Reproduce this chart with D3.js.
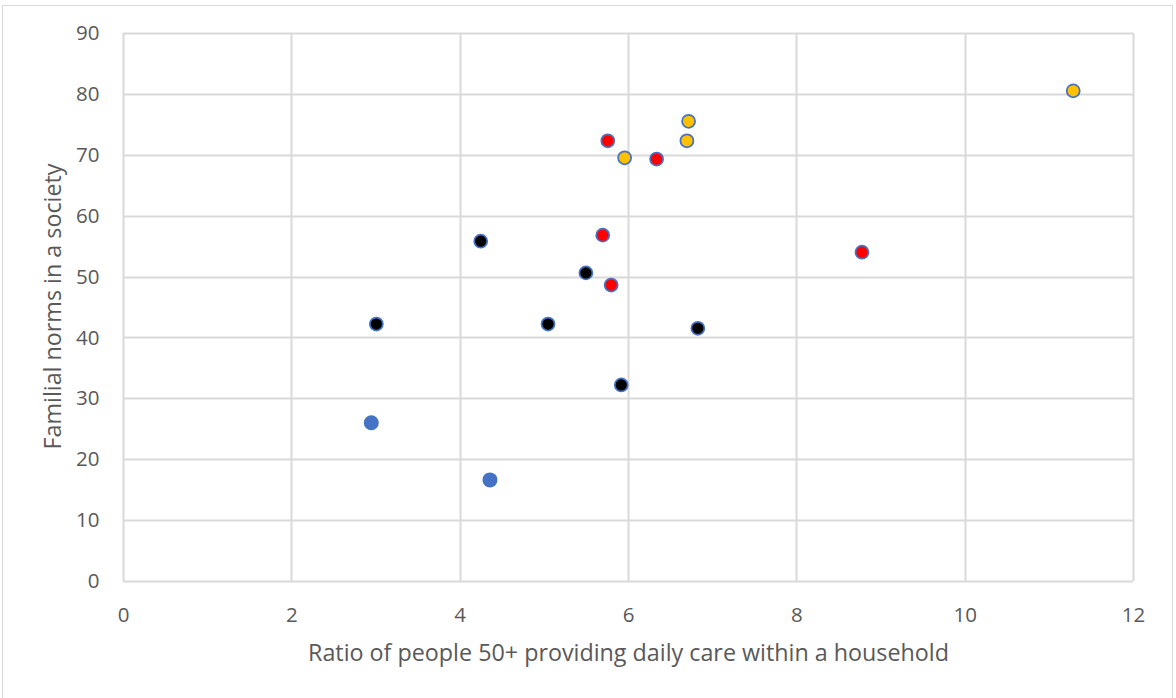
<!DOCTYPE html>
<html>
<head>
<meta charset="utf-8">
<script src="https://cdn.jsdelivr.net/npm/d3@7/dist/d3.min.js"></script>
<style>
  html, body { margin: 0; padding: 0; background: #fff; }
  svg { display: block; }
  .tick text { font-family: "Open Sans", Lato, sans-serif; fill: #595959; }
</style>
</head>
<body>
<svg id="chart" width="1176" height="698"></svg>
<script>
// Care ratio (x) vs familial norms (y), grouped into four country clusters
const groupBlueX   = [2.95, 4.36];
const groupBlueY   = [26.0, 16.6];
const groupBlackX  = [3.01, 4.25, 5.05, 5.50, 5.92, 6.83];
const groupBlackY  = [42.2, 55.8, 42.2, 50.6, 32.2, 41.5];
const groupRedX    = [5.76, 5.70, 5.80, 6.34, 8.78];
const groupRedY    = [72.3, 56.8, 48.6, 69.3, 54.0];
const groupYellowX = [6.72, 6.70, 5.96, 11.29];
const groupYellowY = [75.5, 72.3, 69.5, 80.5];

const xTicks = [0, 2, 4, 6, 8, 10, 12];
const yTicks = [0, 10, 20, 30, 40, 50, 60, 70, 80, 90];

const xTitle = "Ratio of people 50+ providing daily care within a household";
const yTitle = "Familial norms in a society";

const groups = [
  { xs: groupBlueX,   ys: groupBlueY,   fill: "#4472C4", stroke: "none" },
  { xs: groupBlackX,  ys: groupBlackY,  fill: "#000000", stroke: "#4472C4" },
  { xs: groupRedX,    ys: groupRedY,    fill: "#FF0000", stroke: "#4472C4" },
  { xs: groupYellowX, ys: groupYellowY, fill: "#FFC000", stroke: "#4472C4" }
];

const svg = d3.select("#chart");

// chart frame
svg.append("rect")
  .attr("x", 2.5).attr("y", 5.5)
  .attr("width", 1170).attr("height", 700)
  .attr("fill", "#fff").attr("stroke", "#D9D9D9").attr("stroke-width", 1);

const plot = { left: 123, right: 1133, top: 33, bottom: 581 };

const x = d3.scaleLinear().domain([0, 12]).range([plot.left, plot.right]);
const y = d3.scaleLinear().domain([0, 90]).range([plot.bottom, plot.top]);

// gridlines
const grid = svg.append("g");
grid.selectAll(".vgrid").data(xTicks).join("line")
  .attr("x1", d => Math.round(x(d)) + 0.5).attr("x2", d => Math.round(x(d)) + 0.5)
  .attr("y1", plot.top).attr("y2", plot.bottom)
  .attr("stroke", "#D9D9D9").attr("stroke-width", 2);
grid.selectAll(".hgrid").data(yTicks).join("line")
  .attr("x1", plot.left).attr("x2", plot.right)
  .attr("y1", d => Math.round(y(d)) + 0.5).attr("y2", d => Math.round(y(d)) + 0.5)
  .attr("stroke", "#D9D9D9").attr("stroke-width", 2);

// axes (labels only)
const xAxis = svg.append("g")
  .attr("transform", `translate(0,${plot.bottom})`)
  .call(d3.axisBottom(x).tickValues(xTicks).tickSize(0).tickPadding(26));
xAxis.select(".domain").remove();
xAxis.selectAll("text").attr("font-size", 20.5);

const yAxis = svg.append("g")
  .attr("transform", `translate(${plot.left},0)`)
  .call(d3.axisLeft(y).tickValues(yTicks).tickSize(0).tickPadding(23.5));
yAxis.select(".domain").remove();
yAxis.selectAll("text").attr("font-size", 20.5);

// axis titles
svg.append("text")
  .attr("x", (plot.left + plot.right) / 2 + 0.5)
  .attr("y", 661)
  .attr("text-anchor", "middle")
  .attr("font-family", "'Open Sans', Lato, sans-serif")
  .attr("font-size", 23.3)
  .attr("fill", "#595959")
  .text(xTitle);

svg.append("text")
  .attr("transform", `translate(61,${(plot.top + plot.bottom) / 2 - 0.5}) rotate(-90)`)
  .attr("text-anchor", "middle")
  .attr("font-family", "'Open Sans', Lato, sans-serif")
  .attr("font-size", 23.3)
  .attr("fill", "#595959")
  .text(yTitle);

// markers
const marks = svg.append("g");
groups.forEach(g => {
  const pts = g.xs.map((v, i) => [v, g.ys[i]]);
  marks.append("g").selectAll("circle").data(pts).join("circle")
    .attr("cx", d => x(d[0]))
    .attr("cy", d => y(d[1]))
    .attr("r", g.stroke === "none" ? 7.5 : 6.5)
    .attr("fill", g.fill)
    .attr("stroke", g.stroke)
    .attr("stroke-width", g.stroke === "none" ? 0 : 1.75);
});
</script>
</body>
</html>
